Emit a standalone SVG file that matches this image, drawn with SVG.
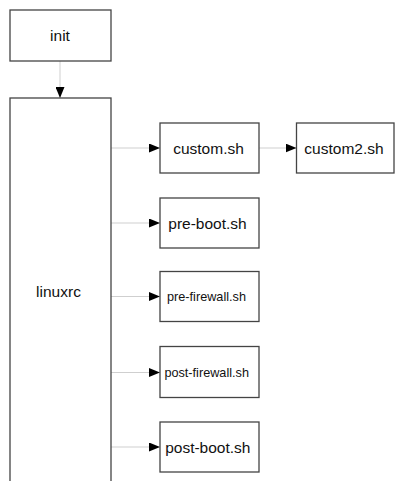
<svg xmlns="http://www.w3.org/2000/svg" width="395" height="481" viewBox="0 0 395 481">
<style>
.box{fill:#fff;stroke:#444;stroke-width:1.3}
.lbl{font-family:"Liberation Sans",Arial,sans-serif;fill:#111;text-anchor:middle}
.big{font-size:15.5px}
.sm{font-size:12.7px}
.edge{stroke:#cfcfcf;stroke-width:1;fill:none}
</style>
<defs>
<marker id="ah" viewBox="0 0 11 9" refX="11" refY="4.5" markerWidth="11" markerHeight="9" markerUnits="userSpaceOnUse" orient="auto">
<path d="M0,0 L11,4.5 L0,9 Z" fill="#000"/>
</marker>
</defs>
<rect width="395" height="481" fill="#fff"/>
<g id="connectors">
<line class="edge" x1="60" y1="61" x2="60" y2="98" marker-end="url(#ah)"/>
<line class="edge" x1="111" y1="148" x2="160" y2="148" marker-end="url(#ah)"/>
<line class="edge" x1="259" y1="148" x2="296.5" y2="148" marker-end="url(#ah)"/>
<line class="edge" x1="111" y1="223" x2="160" y2="223" marker-end="url(#ah)"/>
<line class="edge" x1="111" y1="296.5" x2="160" y2="296.5" marker-end="url(#ah)"/>
<line class="edge" x1="111" y1="372.5" x2="160" y2="372.5" marker-end="url(#ah)"/>
<line class="edge" x1="111" y1="447" x2="160" y2="447" marker-end="url(#ah)"/>
</g>
<g id="init">
<rect class="box" x="10" y="10" width="101" height="51"/>
<text class="lbl big" x="60" y="40.5">init</text>
</g>
<g id="linuxrc">
<rect class="box" x="10" y="98" width="101" height="400"/>
<text class="lbl big" x="58.5" y="296.5">linuxrc</text>
</g>
<g id="custom">
<rect class="box" x="160" y="123" width="99" height="50"/>
<text class="lbl big" x="208.5" y="154">custom.sh</text>
</g>
<g id="custom2">
<rect class="box" x="296.5" y="123" width="97.5" height="50"/>
<text class="lbl big" x="344" y="154">custom2.sh</text>
</g>
<g id="preboot">
<rect class="box" x="160" y="198" width="99" height="50"/>
<text class="lbl big" x="207.5" y="229">pre-boot.sh</text>
</g>
<g id="prefirewall">
<rect class="box" x="160" y="271.5" width="99" height="50"/>
<text class="lbl sm" x="206.5" y="301">pre-firewall.sh</text>
</g>
<g id="postfirewall">
<rect class="box" x="160" y="346.5" width="99" height="51"/>
<text class="lbl sm" x="206.7" y="377.3">post-firewall.sh</text>
</g>
<g id="postboot">
<rect class="box" x="160" y="422" width="99" height="50"/>
<text class="lbl big" x="207.8" y="452.7">post-boot.sh</text>
</g>
</svg>
